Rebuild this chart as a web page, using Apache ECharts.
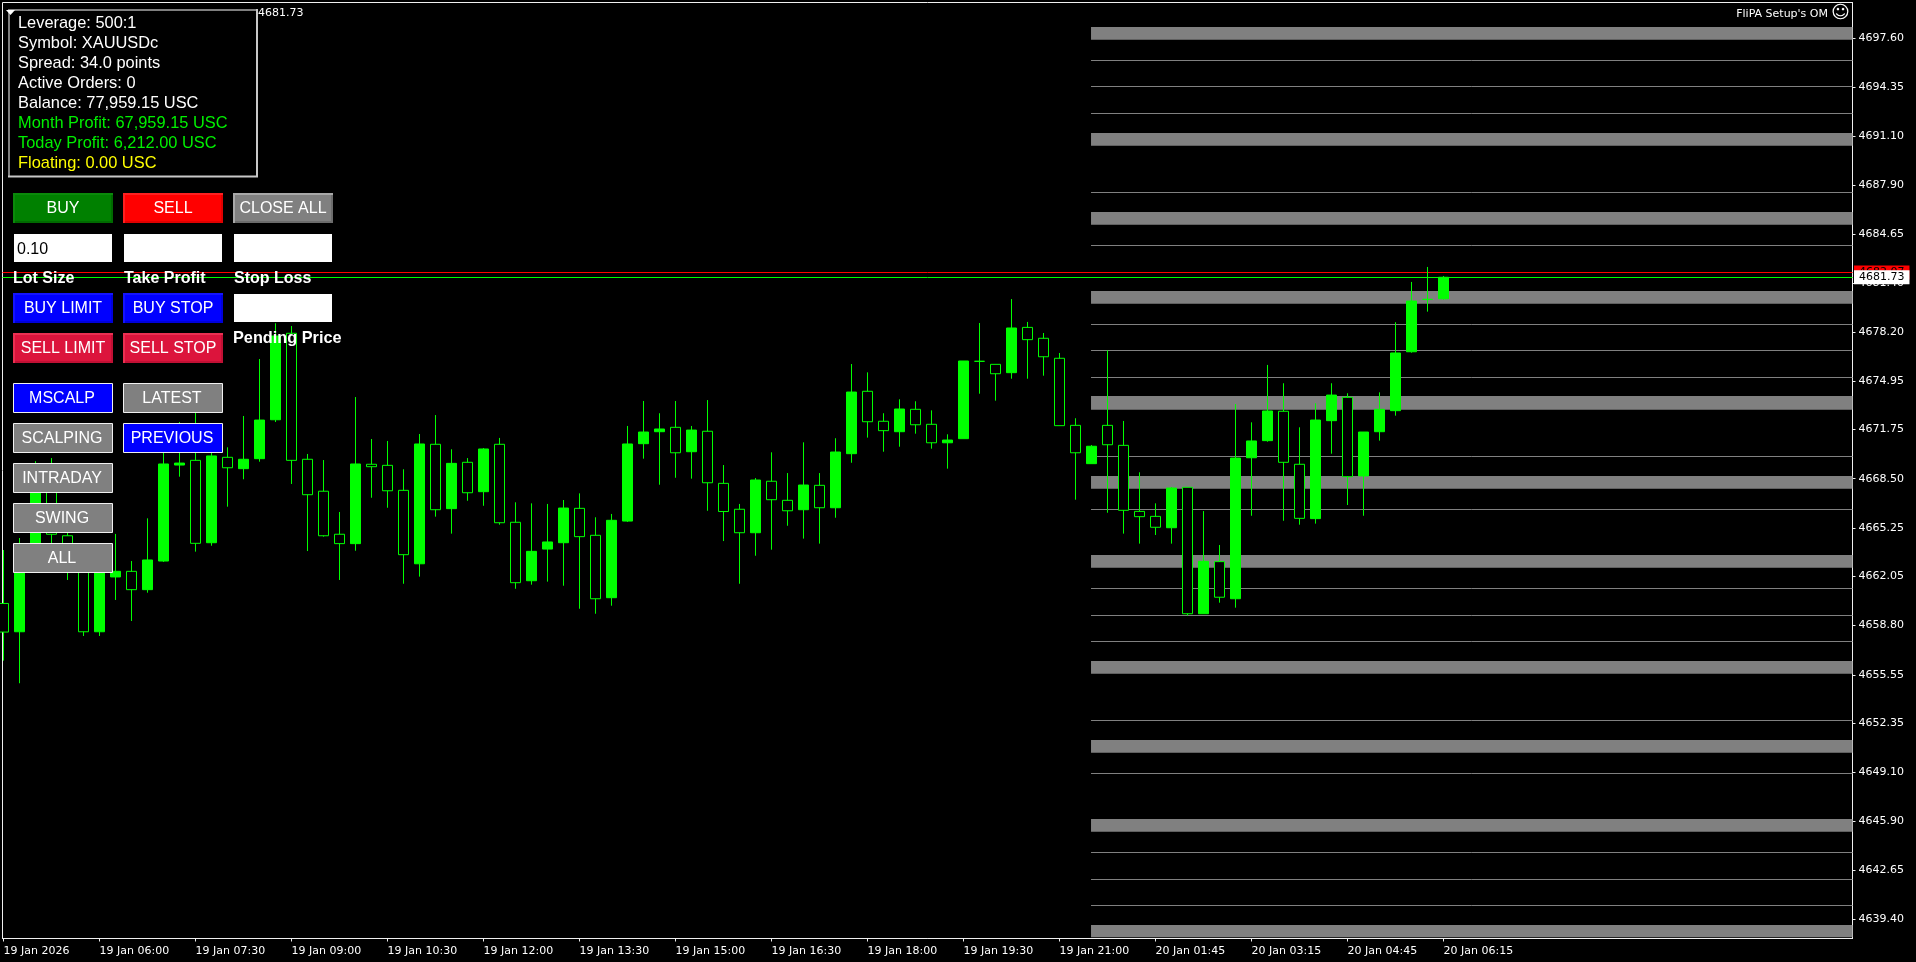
<!DOCTYPE html>
<html><head><meta charset="utf-8">
<style>html,body{margin:0;padding:0;background:#000;overflow:hidden}#c{width:1916px;height:962px}</style>
<script src="https://cdn.jsdelivr.net/npm/echarts@6/dist/echarts.min.js"></script>
</head><body><div id="c"></div>
<script>
const opens=[4660.26,4658.39,4663.13,4668.41,4664.73,4663.59,4658.39,4662.01,4662.38,4661.17,4663.06,4669.40,4669.71,4664.27,4669.91,4669.16,4669.82,4672.39,4678.10,4669.78,4667.67,4664.83,4664.21,4669.45,4669.38,4667.73,4662.88,4670.77,4666.52,4669.58,4667.64,4670.77,4665.62,4661.76,4663.85,4664.27,4666.54,4664.76,4660.64,4665.70,4670.81,4671.60,4671.89,4670.28,4671.63,4668.19,4666.48,4664.93,4668.33,4667.07,4666.45,4668.06,4666.58,4670.15,4674.27,4672.29,4671.60,4673.08,4672.09,4670.87,4671.14,4676.25,4676.05,4675.50,4678.49,4677.77,4676.45,4672.02,4669.49,4672.02,4670.70,4666.34,4666.01,4665.26,4667.93,4659.58,4663.02,4660.57,4669.88,4671.01,4672.95,4669.45,4665.86,4672.33,4673.87,4668.68,4671.60,4672.99,4676.88,4680.34,4680.38];
const closes=[4658.37,4663.13,4668.21,4664.83,4663.13,4658.39,4663.33,4662.38,4661.17,4663.13,4669.47,4669.53,4664.23,4670.00,4669.22,4669.78,4672.37,4677.92,4669.71,4667.44,4664.73,4664.21,4669.47,4669.29,4667.70,4663.48,4670.79,4666.45,4669.51,4667.57,4670.46,4665.59,4661.63,4663.70,4664.32,4666.56,4664.67,4660.57,4665.75,4670.79,4671.58,4671.78,4670.21,4671.71,4668.23,4666.33,4664.93,4668.41,4667.11,4666.38,4668.08,4666.58,4670.26,4674.22,4672.26,4671.67,4673.10,4672.06,4670.87,4671.05,4676.27,4676.25,4675.43,4678.45,4677.68,4676.55,4672.00,4670.21,4670.64,4670.74,4666.41,4665.99,4665.29,4667.88,4659.58,4663.04,4660.67,4669.86,4670.99,4672.97,4669.58,4665.88,4672.37,4674.02,4668.63,4671.58,4673.08,4676.80,4680.23,4680.34,4681.80];
const lows=[4656.48,4654.99,4662.80,4663.33,4661.81,4658.11,4658.11,4660.49,4659.10,4660.97,4663.00,4668.63,4663.68,4664.07,4666.65,4668.46,4669.62,4672.24,4668.15,4663.72,4664.67,4661.81,4663.74,4667.24,4666.58,4661.56,4662.03,4665.99,4664.87,4667.04,4666.71,4665.46,4661.23,4661.50,4661.70,4661.43,4659.91,4659.58,4660.11,4665.64,4669.82,4668.10,4668.56,4668.50,4666.38,4664.38,4661.56,4663.41,4663.81,4665.39,4664.54,4664.21,4665.92,4669.55,4671.21,4670.28,4670.61,4671.47,4670.48,4669.16,4671.14,4674.11,4673.65,4675.10,4675.10,4675.30,4672.00,4667.11,4669.49,4666.25,4664.87,4664.21,4664.78,4664.21,4659.45,4659.58,4660.31,4659.98,4666.05,4670.94,4665.72,4665.46,4665.53,4670.15,4666.76,4666.05,4671.01,4672.66,4676.82,4679.53,4680.32];
const highs=[4663.79,4664.58,4669.65,4669.86,4666.76,4663.92,4664.12,4664.85,4663.06,4665.88,4670.59,4672.24,4674.35,4670.59,4670.57,4672.64,4676.40,4678.76,4678.58,4670.13,4669.73,4666.30,4673.89,4671.12,4670.99,4669.12,4671.45,4672.70,4670.44,4669.86,4670.52,4671.19,4666.94,4666.87,4666.83,4667.09,4667.53,4665.95,4666.17,4671.98,4673.63,4672.82,4673.63,4671.98,4673.69,4669.40,4666.83,4668.54,4670.24,4668.87,4670.90,4668.87,4671.17,4676.07,4675.52,4672.82,4673.74,4673.61,4673.01,4671.43,4676.27,4678.78,4676.05,4680.36,4678.85,4678.12,4676.80,4672.49,4670.72,4676.98,4672.31,4668.92,4666.87,4667.95,4667.93,4666.36,4664.12,4673.43,4672.22,4676.01,4674.80,4671.89,4673.48,4674.80,4674.14,4671.58,4674.20,4678.83,4681.49,4682.48,4681.88];

const timeTickIndexes=[0,6,12,18,24,30,36,42,48,54,60,66,72,78,84,90];
const timeLabels=['19 Jan 2026','19 Jan 06:00','19 Jan 07:30','19 Jan 09:00','19 Jan 10:30','19 Jan 12:00','19 Jan 13:30','19 Jan 15:00','19 Jan 16:30','19 Jan 18:00','19 Jan 19:30','19 Jan 21:00','20 Jan 01:45','20 Jan 03:15','20 Jan 04:45','20 Jan 06:15'];
const priceTicks=[4697.60,4694.35,4691.10,4687.90,4684.65,4681.40,4678.20,4674.95,4671.75,4668.50,4665.25,4662.05,4658.80,4655.55,4652.35,4649.10,4645.90,4642.65,4639.40];

const levelStartIndex=67.97;
const bandHighs=[4698.33,4691.33,4686.11,4680.89,4673.96,4668.68,4663.46,4656.46,4651.24,4646.03,4639.03];
const bandLows=[4697.49,4690.49,4685.27,4680.05,4673.05,4667.84,4662.62,4655.62,4650.40,4645.19,4638.21];
const levelLines=[4696.11,4694.40,4692.61,4687.40,4683.90,4678.68,4676.96,4675.18,4669.96,4666.46,4661.25,4659.46,4657.75,4652.53,4649.03,4643.81,4642.03,4640.31];

const askLevel=4682.11, askText='4682.07';
const bidLevel=4681.80, bidText='4681.73';

const infoLines=[['Leverage: 500:1','#ffffff'],['Symbol: XAUUSDc','#ffffff'],['Spread: 34.0 points','#ffffff'],['Active Orders: 0','#ffffff'],['Balance: 77,959.15 USC','#ffffff'],['Month Profit: 67,959.15 USC','#00f000'],['Today Profit: 6,212.00 USC','#00f000'],['Floating: 0.00 USC','#ffff00']];

const xMin=-0.0625, xMax=115.5625, yMax=4699.944, yMin=4638.134;
const AXIS_FONT='"DejaVu Sans"', UI_FONT='"Liberation Sans"';
const candles=opens.map((o,i)=>[i,o,closes[i],lows[i],highs[i]]);

const bandData=bandHighs.map((h,i)=>[{xAxis:levelStartIndex,yAxis:h},{xAxis:xMax,yAxis:bandLows[i]}]);
const lineData=levelLines.map(p=>[{coord:[levelStartIndex,p]},{coord:[xMax,p]}]);
const priceLabel=(bg,text)=>({show:true,position:'end',distance:1.5,formatter:text,color:'#000',backgroundColor:bg,padding:[1,5,1,5],fontFamily:AXIS_FONT,fontSize:11,lineHeight:12});
lineData.push([{coord:[xMin,askLevel],lineStyle:{color:'#ff0000',width:1,type:'solid',opacity:1},label:priceLabel('#ff0000',askText)},{coord:[xMax,askLevel]}]);
lineData.push([{coord:[xMin,bidLevel],lineStyle:{color:'#00ff00',width:1,type:'solid',opacity:1},label:priceLabel('#ffffff',bidText)},{coord:[xMax,bidLevel]}]);

const Z=100, els=[];
function rect(x,y,w,h,fill,stroke){els.push({type:'rect',z:Z,silent:true,shape:{x,y,width:w,height:h},style:{fill,stroke:stroke||null,lineWidth:stroke?1:0}});}
function text(x,y,t,fill,font,align){els.push({type:'text',z:Z+1,silent:true,x,y,style:{text:t,fill,font,align:align||'left',verticalAlign:'middle'}});}
function line(x1,y1,x2,y2,c,w){els.push({type:'line',z:Z,silent:true,shape:{x1,y1,x2,y2},style:{stroke:c,lineWidth:w||1}});}
function button(x,y,label,fill,light,dark){
  rect(x,y,100,30,fill);
  line(x,y+29,x+100,y+29,dark,2);line(x+99,y,x+99,y+30,dark,2);
  line(x,y+1,x+100,y+1,light,2);line(x+1,y,x+1,y+30,light,2);
  text(x+50,y+16,label,'#ffffff','16px '+UI_FONT,'center');
}
function flat(x,y,label,fill){
  rect(x+.5,y+.5,99,29,fill,'#f0f0f0');
  text(x+49,y+16,label,'#ffffff','16px '+UI_FONT,'center');
}
rect(8,9,250,168,'#000000');
line(8,10,258,10,'#808080',2);line(9,9,9,177,'#808080',2);
line(8,176.5,258,176.5,'#c8c8c8',2);line(257,9,257,177,'#c8c8c8',2);
els.push({type:'polygon',z:Z+1,silent:true,shape:{points:[[6,10],[15,10],[10.5,15]]},style:{fill:'#ffffff'}});
infoLines.forEach((l,i)=>text(18,23.5+20*i,l[0],l[1],'16.4px '+UI_FONT));
text(258,13.5,bidText,'#ffffff','11px '+AXIS_FONT);

button(13,193,'BUY','#008000','#0a8a0a','#006a00');
button(123,193,'SELL','#ff0000','#ff2020','#e00000');
button(233,193,'CLOSE ALL','#808080','#a8a8a8','#6c6c6c');
rect(14,234,98,28,'#ffffff');rect(124,234,98,28,'#ffffff');rect(234,234,98,28,'#ffffff');
text(17,249.5,'0.10','#000000','16px '+UI_FONT);
text(13,278.5,'Lot Size','#ffffff','bold 16px '+UI_FONT);
text(124,278.5,'Take Profit','#ffffff','bold 16px '+UI_FONT);
text(234,278.5,'Stop Loss','#ffffff','bold 16px '+UI_FONT);
button(13,293,'BUY LIMIT','#0000ff','#1414ff','#0000d8');
button(123,293,'BUY STOP','#0000ff','#1414ff','#0000d8');
rect(234,294,98,28,'#ffffff');
text(233,338.5,'Pending Price','#ffffff','bold 16.3px '+UI_FONT);
button(13,333,'SELL LIMIT','#dc143c','#ec3052','#c01034');
button(123,333,'SELL STOP','#dc143c','#ec3052','#c01034');
flat(13,383,'MSCALP','#0000ff');
flat(123,383,'LATEST','#808080');
flat(13,423,'SCALPING','#808080');
flat(123,423,'PREVIOUS','#0000ff');
flat(13,463,'INTRADAY','#808080');
flat(13,503,'SWING','#808080');
flat(13,543,'ALL','#808080');
text(1828,14.5,"FliPA Setup's OM",'#ffffff','11px '+AXIS_FONT,'right');
text(1840.5,13.5,'\u263A','#ffffff','18px '+AXIS_FONT,'center');

const chart=echarts.init(document.getElementById('c'),null,{renderer:'canvas',width:1916,height:962});
chart.setOption({
  backgroundColor:'#000000',
  animation:false,
  grid:{show:true,left:2.5,top:2.5,width:1850,height:936,borderColor:'#f0f0f0',borderWidth:1,backgroundColor:'#000000',containLabel:false},
  xAxis:{type:'value',min:xMin,max:xMax,splitLine:{show:false},
    axisLine:{show:true,onZero:false,lineStyle:{color:'#f0f0f0',width:1}},
    axisTick:{show:true,length:3,inside:false,customValues:timeTickIndexes,lineStyle:{color:'#f0f0f0'}},
    axisLabel:{show:true,customValues:timeTickIndexes,align:'left',margin:7,color:'#ffffff',fontFamily:AXIS_FONT,fontSize:11,
      formatter:v=>timeLabels[timeTickIndexes.indexOf(v)]||''}},
  yAxis:{type:'value',position:'right',min:yMin,max:yMax,scale:true,splitLine:{show:false},
    axisLine:{show:true,onZero:false,lineStyle:{color:'#f0f0f0',width:1}},
    axisTick:{show:true,length:3,customValues:priceTicks,lineStyle:{color:'#f0f0f0'}},
    axisLabel:{show:true,customValues:priceTicks,margin:6,color:'#ffffff',fontFamily:AXIS_FONT,fontSize:11,
      formatter:v=>v.toFixed(2)}},
  series:[{
    type:'candlestick',silent:true,clip:true,barWidth:11,data:candles,encode:{x:0,y:[1,2,3,4]},
    itemStyle:{color:'#00ff00',color0:'#000000',borderColor:'#00ff00',borderColor0:'#00ff00',borderWidth:1},
    markArea:{silent:true,z:1,itemStyle:{color:'#808080',opacity:1,borderWidth:0},label:{show:false},data:bandData},
    markLine:{silent:true,z:1,symbol:['none','none'],animation:false,lineStyle:{color:'#808080',width:1,type:'solid',opacity:1},label:{show:false},data:lineData}
  }],
  graphic:{elements:els}
});
</script></body></html>
